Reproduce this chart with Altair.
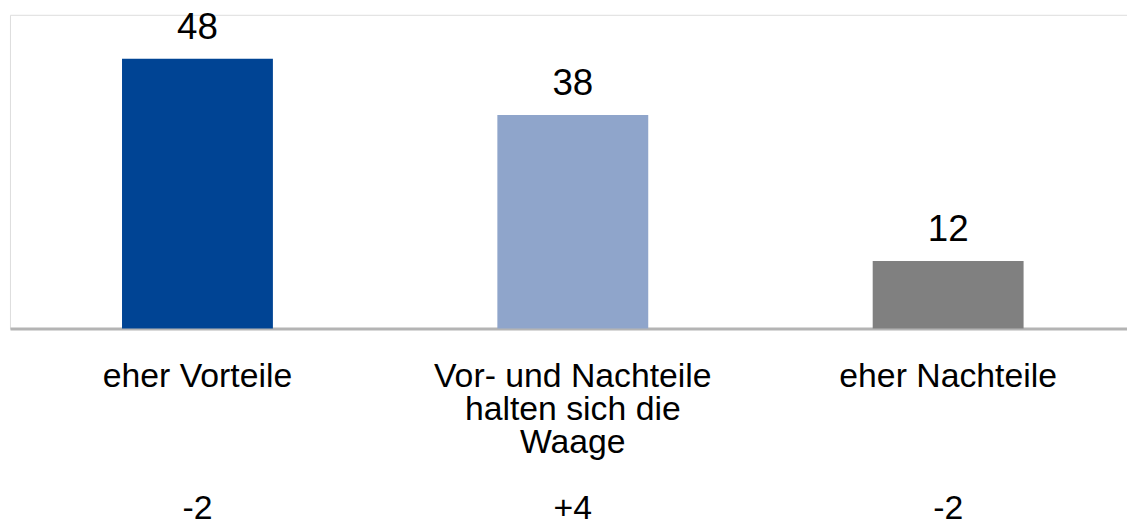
import json
import altair as alt
import pandas as pd

categories = ["eher Vorteile", "Vor- und Nachteile halten sich die Waage", "eher Nachteile"]
label_lines = [["eher Vorteile"], ["Vor- und Nachteile", "halten sich die", "Waage"], ["eher Nachteile"]]
values = [48, 38, 12]
changes = ["-2", "+4", "-2"]
colors = ["#004494", "#8FA5CB", "#808080"]

df = pd.DataFrame({"cat": categories, "value": values})

lookup = {}
for c, lines, ch in zip(categories, label_lines, changes):
    lookup[c] = lines + ["\u200b"] * (4 - len(lines)) + [ch]
label_expr = json.dumps(lookup) + "[datum.value]"

FONT = "Liberation Sans"

x = alt.X(
    "cat:N",
    sort=categories,
    scale=alt.Scale(paddingInner=0.598, paddingOuter=0.287, align=0.52),
    axis=alt.Axis(
        title=None,
        labelExpr=label_expr,
        labelAngle=0,
        labelFont=FONT,
        labelFontSize=34,
        labelColor="#000000",
        labelLineHeight=33.4,
        labelPadding=31,
        labelLimit=0,
        labelOverlap=False,
        ticks=False,
        grid=False,
        domainColor="#B4B4B4",
        domainWidth=3,
    ),
)
y = alt.Y("value:Q", scale=alt.Scale(domain=[0, 55.8]), axis=None)

bars = alt.Chart(df).mark_bar().encode(
    x=x,
    y=y,
    color=alt.Color("cat:N", scale=alt.Scale(domain=categories, range=colors), legend=None),
)
text = alt.Chart(df).mark_text(
    font=FONT, fontSize=37, baseline="alphabetic", dy=-20, color="#000000"
).encode(x=alt.X("cat:N", sort=categories), y=y, text=alt.Text("value:Q"))

chart = (
    alt.layer(bars, text)
    .properties(
        width=1125,
        height=316,
        autosize=alt.AutoSizeParams(type="none"),
        padding={"left": 2, "top": 5, "right": 0, "bottom": 200},
    )
    .configure_view(strokeOpacity=0, strokeWidth=0)
    .configure(background="#FFFFFF")
)

chart.save("out.html", embed_options={"renderer": "svg", "actions": False})
